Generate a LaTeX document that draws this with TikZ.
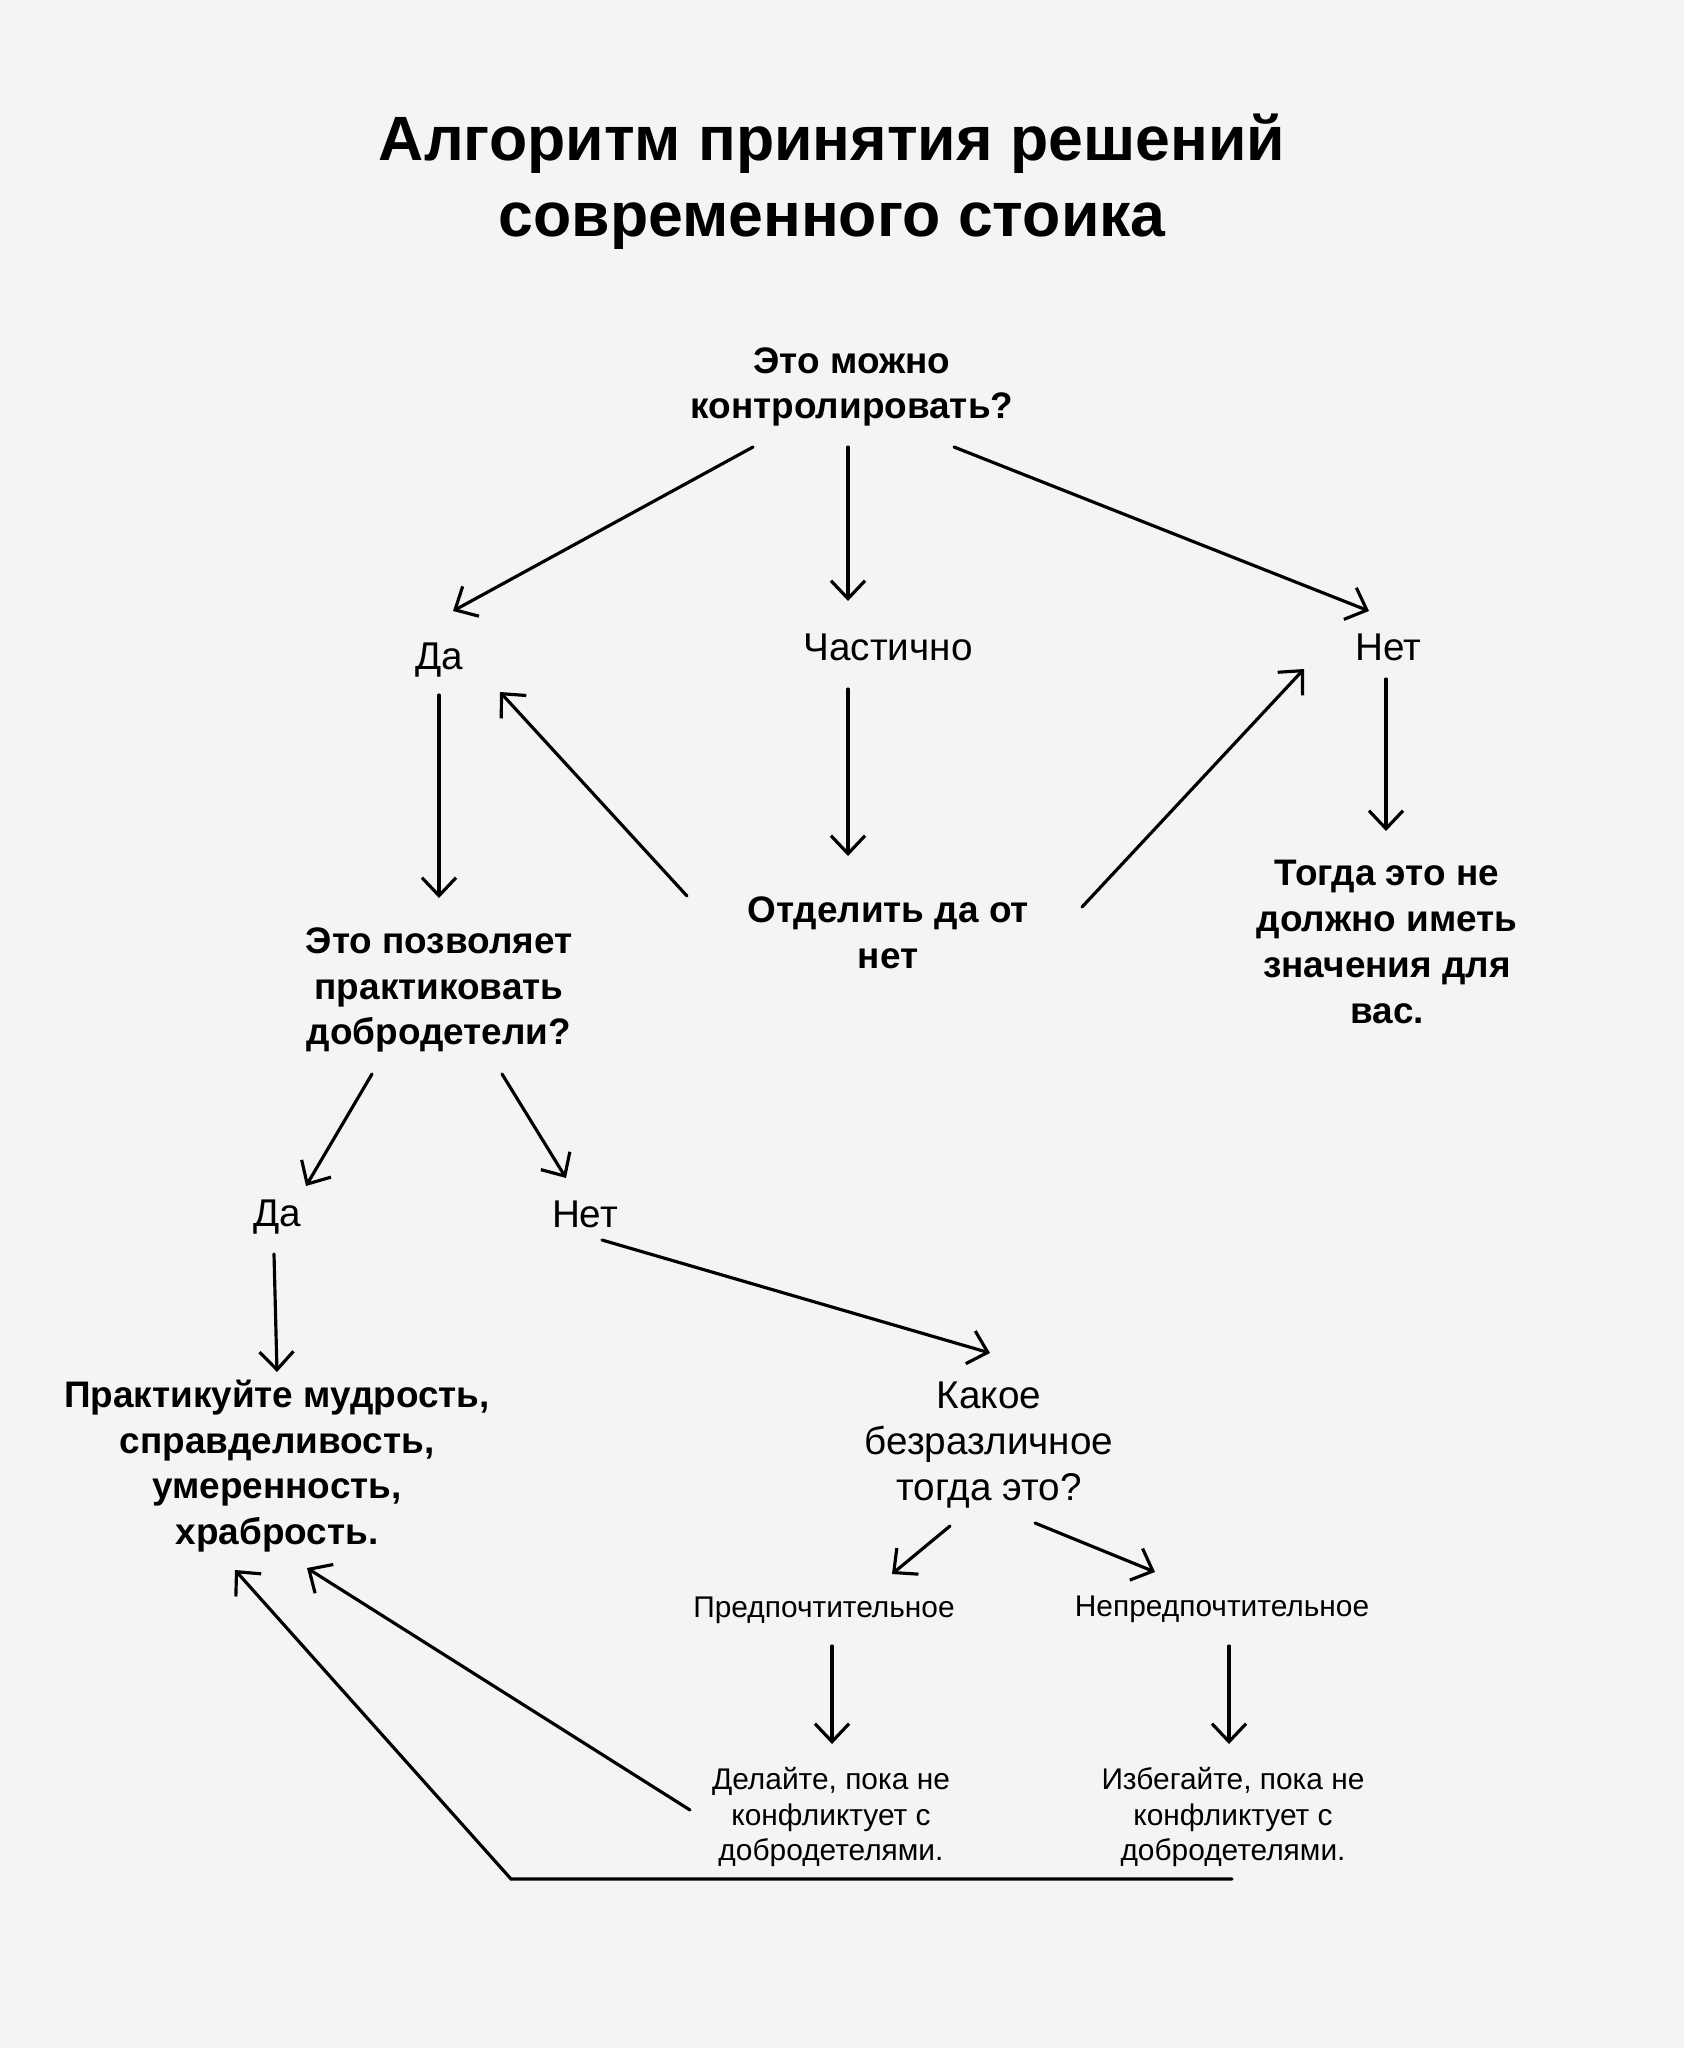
\documentclass[tikz,border=0pt]{standalone}
\usepackage{fontspec}
\setmainfont{Liberation Sans}
\usetikzlibrary{arrows.meta}
\definecolor{paper}{HTML}{F4F4F4}

\begin{document}
\begin{tikzpicture}[x=0.01cm,y=-0.01cm]
		\tikzset{
			every node/.style = {align=center, inner sep=0pt},
			heading/.style = {font=\fontsize{17.8}{21.6}\selectfont\bfseries},
			question/.style = {font=\fontsize{10.5}{13}\selectfont\bfseries},
			choice/.style = {font=\fontsize{11}{13}\selectfont},
			hint/.style = {font=\fontsize{8.5}{10}\selectfont},
			arr/.style = {line width=0.9pt, line cap=round, -{Straight Barb[length=1.8mm,width=3.4mm]}}
		}
		\fill[paper] (0,0) rectangle (1684,2048);
		\useasboundingbox (0,0) rectangle (1684,2048);
		% title
		\node[heading] (title) at (832,182) {Алгоритм принятия решений\\современного стоика};
		% first question
		\node[question] (q1) at (852,387) {Это можно\\контролировать?};
		\node[choice] (yes1) at (439,660) {Да};
		\node[choice] (part) at (888,647) {Частично};
		\node[choice] (no1) at (1388,647) {Нет};
		\node[question] (split) at (888,933) {Отделить да от\\нет};
		\node[question] (then1) at (1387,942) {Тогда это не\\должно иметь\\значения для\\вас.};
		% virtues
		\node[question] (q2) at (439,990) {Это позволяет\\практиковать\\добродетели?};
		\node[choice] (yes2) at (277,1217) {Да};
		\node[choice] (no2) at (585,1214) {Нет};
		\node[question] (virt) at (277,1466) {Практикуйте мудрость,\\справделивость,\\умеренность,\\храбрость.};
		% indifferents
		\node[choice] (which) at (989,1445) {Какое\\безразличное\\тогда это?};
		\node[hint] (pref) at (824,1610) {Предпочтительное};
		\node[hint] (dispref) at (1222,1609) {Непредпочтительное};
		\node[hint] (dopref) at (831,1817) {Делайте, пока не\\конфликтует с\\добродетелями.};
		\node[hint] (avoid) at (1233,1817) {Избегайте, пока не\\конфликтует с\\добродетелями.};
		\coordinate (corner) at (511,1879);
		% connectors
		\draw[arr] ([shift={(-99,60)}]q1.center) -- ([shift={(14,-49)}]yes1.center);
		\draw[arr] ([shift={(-4,60)}]q1.center) -- ([shift={(-40,-46)}]part.center);
		\draw[arr] ([shift={(102,60)}]q1.center) -- ([shift={(-19,-36)}]no1.center);
		\draw[arr] ([shift={(0,35)}]yes1.center) -- ([shift={(0,-92)}]q2.center);
		\draw[arr] ([shift={(-40,42)}]part.center) -- ([shift={(-40,-77)}]split.center);
		\draw[arr] ([shift={(-2,32)}]no1.center) -- ([shift={(-1,-111)}]then1.center);
		\draw[arr] ([shift={(-201,-37)}]split.center) -- ([shift={(61,32)}]yes1.center);
		\draw[arr] ([shift={(194,-26)}]split.center) -- ([shift={(-84,22)}]no1.center);
		\draw[arr] ([shift={(-67,84)}]q2.center) -- ([shift={(29,-31)}]yes2.center);
		\draw[arr] ([shift={(63,84)}]q2.center) -- ([shift={(-19,-36)}]no2.center);
		\draw[arr] ([shift={(-3,37)}]yes2.center) -- ([shift={(0,-94)}]virt.center);
		\draw[arr] ([shift={(17,26)}]no2.center) -- ([shift={(1,-92)}]which.center);
		\draw[arr] ([shift={(-39,81)}]which.center) -- ([shift={(68,-36)}]pref.center);
		\draw[arr] ([shift={(46,78)}]which.center) -- ([shift={(-67,-37)}]dispref.center);
		\draw[arr] ([shift={(8,36)}]pref.center) -- ([shift={(1,-73)}]dopref.center);
		\draw[arr] ([shift={(7,37)}]dispref.center) -- ([shift={(-4,-73)}]avoid.center);
		\draw[arr] ([shift={(-141,-7)}]dopref.center) -- ([shift={(30,102)}]virt.center);
		\draw[arr] ([shift={(-1,62)}]avoid.center) -- (corner) -- ([shift={(-42,104)}]virt.center);
\end{tikzpicture}
\end{document}
